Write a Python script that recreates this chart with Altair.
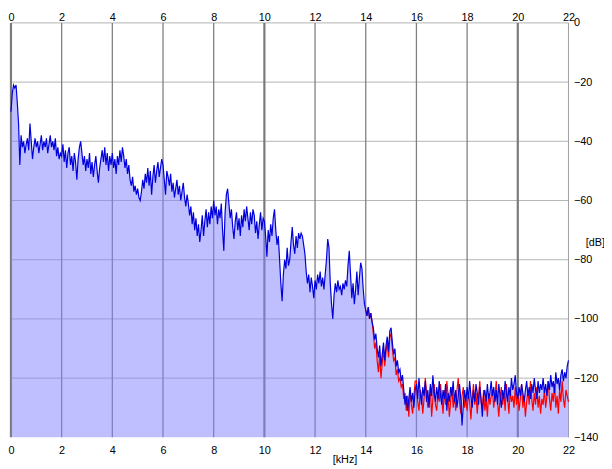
import altair as alt
import pandas as pd

STEP = 0.05  # kHz between samples

# Blue trace, 0.00 .. 22.00 kHz, one row per kHz (20 samples)
blue_db = [
    -30, -24, -21, -22, -21, -27, -34, -48, -38, -42, -40, -44, -41, -39, -43, -34, -40, -46, -42, -39,
    -42, -40, -44, -41, -38, -43, -40, -42, -39, -44, -41, -38, -42, -40, -43, -39, -45, -42, -46, -44,
    -45, -41, -47, -43, -49, -44, -42, -48, -45, -50, -44, -47, -53, -46, -42, -40, -44, -48, -45, -50,
    -46, -49, -44, -51, -47, -52, -48, -45, -50, -54, -49, -46, -43, -47, -42, -48, -44, -50, -45, -48,
    -44, -49, -46, -51, -45, -48, -43, -47, -42, -45, -49, -46, -51, -48, -53, -55, -52, -57, -55, -58,
    -56, -59, -60, -57, -53, -56, -51, -54, -49, -55, -50, -58, -52, -48, -54, -50, -47, -52, -49, -46,
    -48, -53, -58, -50, -52, -55, -51, -57, -54, -59, -56, -53, -58, -55, -60, -57, -54, -59, -62, -58,
    -61, -65, -62, -68, -64, -70, -66, -72, -68, -74, -70, -65, -72, -67, -63, -69, -64, -68, -62, -66,
    -60, -65, -62, -68, -63, -66, -61, -70, -77, -64, -58, -56, -61, -66, -63, -69, -73, -67, -64, -70,
    -66, -72, -65, -69, -63, -67, -62, -66, -70, -64, -68, -63, -65, -71, -67, -73, -68, -64, -70, -66,
    -67, -72, -79, -70, -74, -68, -72, -66, -63, -70, -75, -72, -80, -88, -94, -85, -80, -83, -76, -82,
    -80, -74, -69, -75, -78, -72, -76, -71, -73, -71, -72, -75, -78, -84, -88, -85, -91, -86, -89, -93,
    -87, -90, -85, -88, -84, -89, -86, -90, -85, -80, -73, -76, -88, -95, -100, -92, -88, -91, -87, -90,
    -89, -92, -88, -90, -87, -89, -82, -77, -85, -93, -88, -95, -90, -84, -92, -86, -81, -83, -90, -95,
    -97, -99, -96, -100, -98, -101, -103, -107, -105, -110, -113, -109, -116, -112, -108, -114, -109, -106, -111, -104,
    -103, -108, -112, -110, -116, -114, -118, -117, -121, -119, -124, -129, -126, -131, -127, -123, -128, -125, -130, -124,
    -122, -127, -120, -125, -129, -123, -126, -121, -128, -124, -130, -122, -126, -119, -125, -128, -123, -127, -121, -126,
    -129, -124, -127, -122, -131, -125, -128, -123, -126, -121, -128, -124, -130, -126, -122, -127, -136, -129, -124, -128,
    -123, -127, -121, -126, -130, -124, -128, -122, -125, -129, -123, -127, -133, -126, -124, -128, -122, -127, -125, -121,
    -126, -123, -128, -124, -129, -122, -126, -130, -124, -127, -121, -125, -128, -123, -126, -120, -124, -122, -119, -125,
    -127, -123, -126, -122, -125, -128, -124, -121, -126, -123, -127, -122, -125, -120, -124, -127, -121, -125, -122, -124,
    -120, -125, -122, -126, -121, -124, -119, -123, -121, -125, -118, -122, -120, -124, -119, -117, -121, -118, -120, -116,
    -114,
]

# Red trace, visible from 14.00 kHz (below that it lies under the blue one)
red_start_khz = 14.0
red_db = [
    -97, -99, -96, -100, -98, -101, -105, -110, -108, -114, -118, -112, -120, -115, -110, -116, -111, -108, -113, -106,
    -105, -110, -114, -113, -119, -117, -121, -120, -123, -122, -127, -125, -131, -126, -133, -124, -129, -132, -126, -121,
    -121, -128, -131, -124, -126, -132, -127, -120, -125, -130, -128, -123, -133, -127, -122, -129, -131, -125, -128, -122,
    -127, -132, -124, -129, -121, -126, -133, -128, -123, -130, -126, -131, -124, -120, -128, -132, -126, -123, -130, -127,
    -131, -125, -128, -134, -127, -122, -129, -125, -132, -126, -121, -128, -130, -124, -131, -127, -133, -125, -129, -126,
    -124, -130, -126, -121, -128, -133, -127, -123, -129, -125, -131, -122, -127, -132, -124, -128, -126, -130, -123, -129,
    -125, -131, -127, -122, -130, -126, -133, -128, -124, -129, -121, -127, -131, -125, -129, -123, -130, -126, -132, -127,
    -129, -124, -130, -126, -121, -127, -131, -125, -128, -122, -130, -126, -132, -124, -128, -121, -127, -130, -124, -126,
    -128,
]

x_ticks = [0, 2, 4, 6, 8, 10, 12, 14, 16, 18, 20, 22]
x_major = [0, 10, 20]
y_ticks = [0, -20, -40, -60, -80, -100, -120, -140]
x_title = "[kHz]"
y_title = "[dB]"

FONT = "Liberation Sans"

df_blue = pd.DataFrame({"f": [round(i * STEP, 2) for i in range(len(blue_db))], "db": blue_db})
df_red = pd.DataFrame({"f": [round(red_start_khz + i * STEP, 2) for i in range(len(red_db))], "db": red_db})
df_vminor = pd.DataFrame({"f": [t for t in x_ticks if t not in x_major and t != 22]})
df_vmajor = pd.DataFrame({"f": x_major})
df_vright = pd.DataFrame({"f": [22]})
df_h = pd.DataFrame({"db": y_ticks[:-1]})

xs = alt.Scale(domain=[0, 22], nice=False, zero=False)
ys = alt.Scale(domain=[-140, 0], nice=False, zero=False)

h_grid = alt.Chart(df_h).mark_rule(color="#b4b4b4", strokeWidth=1).encode(
    y=alt.Y("db:Q", scale=ys, axis=None)
)
v_minor = alt.Chart(df_vminor).mark_rule(color="#808080", strokeWidth=1.3).encode(
    x=alt.X("f:Q", scale=xs, axis=None)
)
v_major = alt.Chart(df_vmajor).mark_rule(color="#7a7a7a", strokeWidth=2.2).encode(
    x=alt.X("f:Q", scale=xs, axis=None)
)
v_right = alt.Chart(df_vright).mark_rule(color="#a0a0a0", strokeWidth=1).encode(
    x=alt.X("f:Q", scale=xs, axis=None)
)

area = alt.Chart(df_blue).mark_area(color="#8080ff", opacity=0.5).encode(
    x=alt.X(
        "f:Q",
        scale=xs,
        axis=alt.Axis(
            orient="bottom", values=x_ticks, grid=False, ticks=False, domain=False,
            labelFont=FONT, labelFontSize=11, labelColor="black", labelPadding=7,
            labelFlush=False, labelOverlap=False,
            title=x_title, titleFont=FONT, titleFontSize=11, titleFontWeight="normal",
            titleColor="black", titleX=338, titleY=23, titleAlign="center",
            titleBaseline="middle",
        ),
    ),
    y=alt.Y(
        "db:Q",
        scale=ys,
        axis=alt.Axis(
            orient="right", values=y_ticks, grid=False, ticks=False, domain=False,
            labelFont=FONT, labelFontSize=11, labelColor="black", labelPadding=5,
            labelAlign="left", labelBaseline="middle", labelFlush=False, labelOverlap=False,
            title=y_title, titleFont=FONT, titleFontSize=11, titleFontWeight="normal",
            titleColor="black", titleAngle=0, titleX=17, titleY=223,
            titleAlign="left", titleBaseline="middle",
        ),
    ),
    y2=alt.datum(-140),
)

red_line = alt.Chart(df_red).mark_line(color="#ff0000", strokeWidth=1.2).encode(
    x=alt.X("f:Q", scale=xs, axis=None),
    y=alt.Y("db:Q", scale=ys, axis=None),
)

blue_line = alt.Chart(df_blue).mark_line(color="#0000dd", strokeWidth=1.2).encode(
    x=alt.X(
        "f:Q",
        scale=xs,
        axis=alt.Axis(
            orient="top", values=x_ticks, grid=False, ticks=False, domain=False,
            labelFont=FONT, labelFontSize=11, labelColor="black", labelPadding=0,
            labelFlush=False, labelOverlap=False, title=None,
        ),
    ),
    y=alt.Y("db:Q", scale=ys, axis=None),
)

chart = (
    alt.layer(h_grid, v_minor, v_major, v_right, area, red_line, blue_line)
    .resolve_axis(x="independent", y="independent")
    .properties(
        width=565,
        height=420,
        autosize=alt.AutoSizeParams(type="none"),
        padding={"left": 3, "top": 12, "right": 36, "bottom": 30},
        background="white",
    )
    .configure_view(stroke=None)
)

chart.save("out.html", embed_options={"renderer": "svg", "actions": False})
